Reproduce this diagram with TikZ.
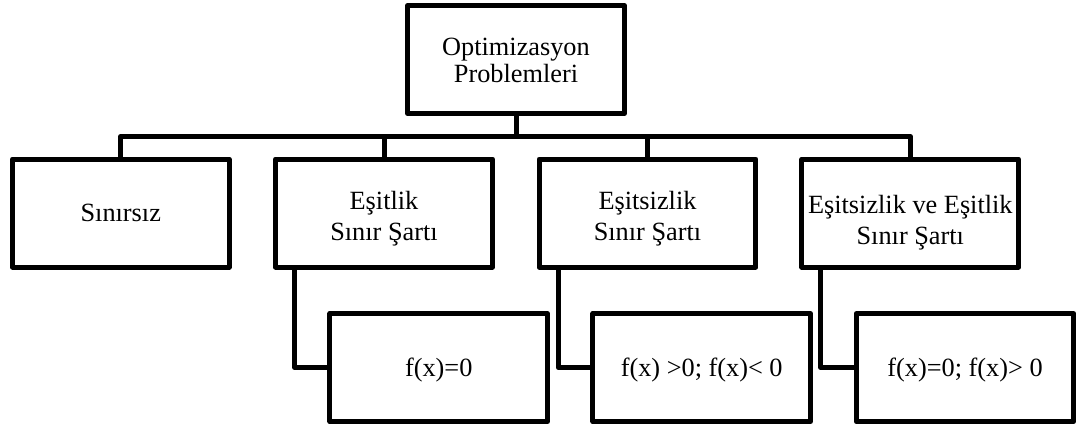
\documentclass[tikz,border=0pt]{standalone}
\usepackage{fontspec}
\setmainfont{Liberation Serif}
\begin{document}
\begin{tikzpicture}[x=1pt,y=-1pt,
  box/.style={draw,line width=5pt,line join=round,inner sep=0pt,
    minimum width=216.8pt,minimum height=108pt},
  txt/.style={inner sep=0pt,align=center,font=\fontsize{26.3}{31}\selectfont},
  toptxt/.style={txt,font=\fontsize{26.3}{27}\selectfont},
  wire/.style={line width=5pt,line join=round}]
\useasboundingbox (0,0) rectangle (1078,428);
\node[box] (top) at (516,59.5) {};
\node[toptxt] (topt) at ([yshift=-1pt]top.center) {Optimizasyon\\Problemleri};
\node[box] (s1) at (120.75,213) {};
\node[txt] (s1t) at (s1.center) {Sınırsız};
\node[box] (s2) at (384,213) {};
\node[txt] (s2t) at ([yshift=-6pt]s2.center) {Eşitlik\\Sınır Şartı};
\node[box] (s3) at (647.5,213) {};
\node[txt] (s3t) at ([yshift=-6pt]s3.center) {Eşitsizlik\\Sınır Şartı};
\node[box] (s4) at (910.3,213) {};
\node[txt] (s4t) at ([yshift=-10pt]s4.center) {Eşitsizlik ve Eşitlik\\Sınır Şartı};
\node[box,minimum width=217.5pt] (t2) at (438.7,367.6) {};
\node[txt] (t2t) at ([yshift=-2pt]t2.center) {f(x)=0};
\node[box,minimum width=217.5pt] (t3) at (701.7,367.6) {};
\node[txt] (t3t) at ([yshift=-2pt]t3.center) {f(x) >0; f(x)< 0};
\node[box,minimum width=217.5pt] (t4) at (965,367.6) {};
\node[txt] (t4t) at ([yshift=-2pt]t4.center) {f(x)=0; f(x)> 0};
\coordinate (bus) at (516,136.5);
\draw[wire] (top.south) -- (bus);
\draw[wire] (s1.north) |- (bus) -| (s4.north);
\draw[wire] (s2.north) -- (s2.north |- bus);
\draw[wire] (s3.north) -- (s3.north |- bus);
\draw[wire] ([xshift=21.7pt]s2.south west) |- (t2.west);
\draw[wire] ([xshift=21.7pt]s3.south west) |- (t3.west);
\draw[wire] ([xshift=21.5pt]s4.south west) |- (t4.west);
\end{tikzpicture}
\end{document}
